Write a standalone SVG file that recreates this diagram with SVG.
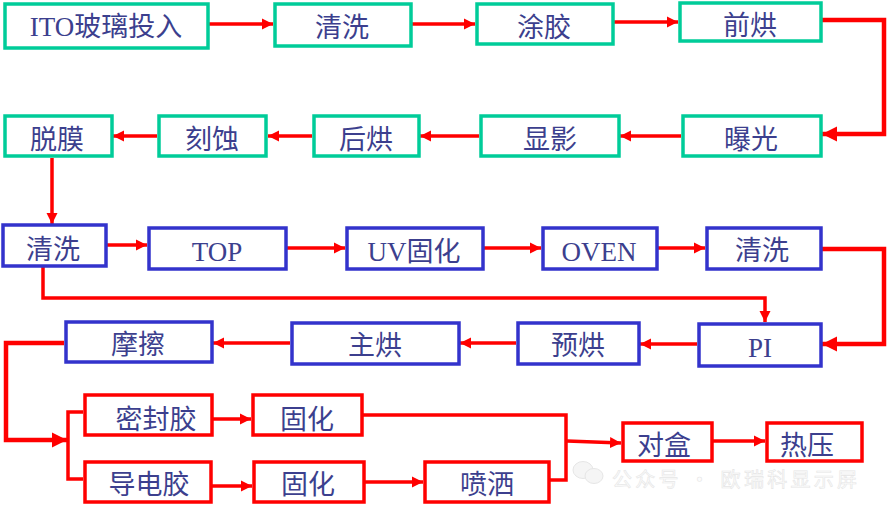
<svg xmlns="http://www.w3.org/2000/svg" width="887" height="505" viewBox="0 0 887 505">
<defs>
<style>
.g{fill:#fff;stroke:#00CC99;stroke-width:3.5}
.b{fill:#fff;stroke:#3333CC;stroke-width:3.5}
.r{fill:#fff;stroke:#FF0000;stroke-width:3.5}
text{font-family:"Liberation Serif","Noto Sans CJK SC",serif;font-size:27px;fill:#3C3F8E;text-anchor:middle}
.c{fill:none;stroke:#FF0000;stroke-width:3.5}
.s{marker-end:url(#ah)}
.L{fill:none;stroke:#FF0000;stroke-width:4.5;marker-end:url(#ahb)}
.wm{font-family:"Noto Sans CJK SC",sans-serif;font-size:20px;fill:#fcfcfc;stroke:#e6e6e6;stroke-width:0.6;text-anchor:start}
</style>
<marker id="ah" markerUnits="userSpaceOnUse" markerWidth="12" markerHeight="12" refX="11" refY="6" orient="auto"><path d="M0,0.5 L11,6 L0,11.5 z" fill="#FF0000"/></marker>
<marker id="ahb" markerUnits="userSpaceOnUse" markerWidth="16" markerHeight="16" refX="15" refY="8" orient="auto"><path d="M0,0.5 L15,8 L0,15.5 z" fill="#FF0000"/></marker>
</defs>
<rect width="887" height="505" fill="#fff"/>

<g id="watermark">
<ellipse cx="583" cy="470" rx="10" ry="8.5" fill="#f5f5f5" stroke="#e6e6e6" stroke-width="1"/>
<ellipse cx="594" cy="476" rx="9" ry="7.5" fill="#f5f5f5" stroke="#e6e6e6" stroke-width="1"/>
<text class="wm" x="612" y="487" textLength="245" lengthAdjust="spacing">公众号 · 欧瑞科显示屏</text>
</g>

<g id="connectors">
<path class="c s" d="M209,24 H273"/>
<path class="c s" d="M412,24 H475"/>
<path class="c s" d="M614,22 H678"/>
<path class="L" d="M822,20 H884 V134 H822"/>
<path class="c s" d="M681,136 H620"/>
<path class="c s" d="M479,136 H420"/>
<path class="c s" d="M312,136 H268"/>
<path class="c s" d="M157,136 H113"/>
<path class="c s" d="M52,158 V224"/>
<path class="c s" d="M107,245 H147"/>
<path class="c s" d="M287,248 H345"/>
<path class="c s" d="M484,248 H541"/>
<path class="c s" d="M658,248 H705"/>
<path class="L" d="M822,249 H884 V344 H822"/>
<path class="c s" d="M43,267 V298 H765 V322"/>
<path class="c s" d="M697,344 H640"/>
<path class="c s" d="M516,343 H460"/>
<path class="c s" d="M290,343 H213"/>
<path class="L" d="M64,343 H6 V440 H67"/>
<path class="c" d="M83,412 H68 V479 H83"/>
<path class="c s" d="M213,419 H251"/>
<path class="c s" d="M212,486 H252"/>
<path class="c s" d="M365,482 H423"/>
<path class="c" d="M363,415 H566 V480 H550"/>
<path class="c s" d="M567,441 L621,443"/>
<path class="c s" d="M713,441 H765"/>
</g>

<g id="n1"><rect class="g" x="5" y="4" width="203" height="44"/><text x="106" y="36">ITO玻璃投入</text></g>
<g id="n2"><rect class="g" x="275" y="4" width="136" height="42"/><text x="342" y="37">清洗</text></g>
<g id="n3"><rect class="g" x="477" y="4" width="136" height="40"/><text x="544" y="37">涂胶</text></g>
<g id="n4"><rect class="g" x="680" y="3" width="141" height="38"/><text x="750" y="35">前烘</text></g>
<g id="n5"><rect class="g" x="683" y="116" width="138" height="40"/><text x="751" y="149">曝光</text></g>
<g id="n6"><rect class="g" x="481" y="116" width="138" height="40"/><text x="550" y="149">显影</text></g>
<g id="n7"><rect class="g" x="314" y="116" width="105" height="40"/><text x="366" y="149">后烘</text></g>
<g id="n8"><rect class="g" x="159" y="116" width="107" height="40"/><text x="212" y="149">刻蚀</text></g>
<g id="n9"><rect class="g" x="5" y="116" width="107" height="40"/><text x="57" y="149">脱膜</text></g>

<g id="n10"><rect class="b" x="3" y="225" width="103" height="41"/><text x="53" y="259">清洗</text></g>
<g id="n11"><rect class="b" x="149" y="228" width="137" height="41"/><text x="217" y="261">TOP</text></g>
<g id="n12"><rect class="b" x="347" y="228" width="136" height="41"/><text x="414" y="261">UV固化</text></g>
<g id="n13"><rect class="b" x="543" y="228" width="114" height="41"/><text x="599" y="261">OVEN</text></g>
<g id="n14"><rect class="b" x="707" y="228" width="114" height="41"/><text x="762" y="260">清洗</text></g>
<g id="n15"><rect class="b" x="699" y="324" width="122" height="42"/><text x="760" y="357">PI</text></g>
<g id="n16"><rect class="b" x="518" y="323" width="121" height="41"/><text x="578" y="355">预烘</text></g>
<g id="n17"><rect class="b" x="292" y="323" width="167" height="41"/><text x="375" y="355">主烘</text></g>
<g id="n18"><rect class="b" x="66" y="322" width="146" height="40"/><text x="138" y="354">摩擦</text></g>

<g id="n19"><rect class="r" x="85" y="395" width="127" height="40"/><text x="156" y="429">密封胶</text></g>
<g id="n20"><rect class="r" x="253" y="395" width="109" height="40"/><text x="307" y="429">固化</text></g>
<g id="n21"><rect class="r" x="85" y="462" width="126" height="40"/><text x="149" y="494">导电胶</text></g>
<g id="n22"><rect class="r" x="254" y="462" width="110" height="40"/><text x="308" y="494">固化</text></g>
<g id="n23"><rect class="r" x="425" y="462" width="124" height="40"/><text x="487" y="494">喷洒</text></g>
<g id="n24"><rect class="r" x="623" y="423" width="89" height="38"/><text x="664" y="455">对盒</text></g>
<g id="n25"><rect class="r" x="767" y="423" width="95" height="38"/><text x="807" y="455">热压</text></g>
</svg>
